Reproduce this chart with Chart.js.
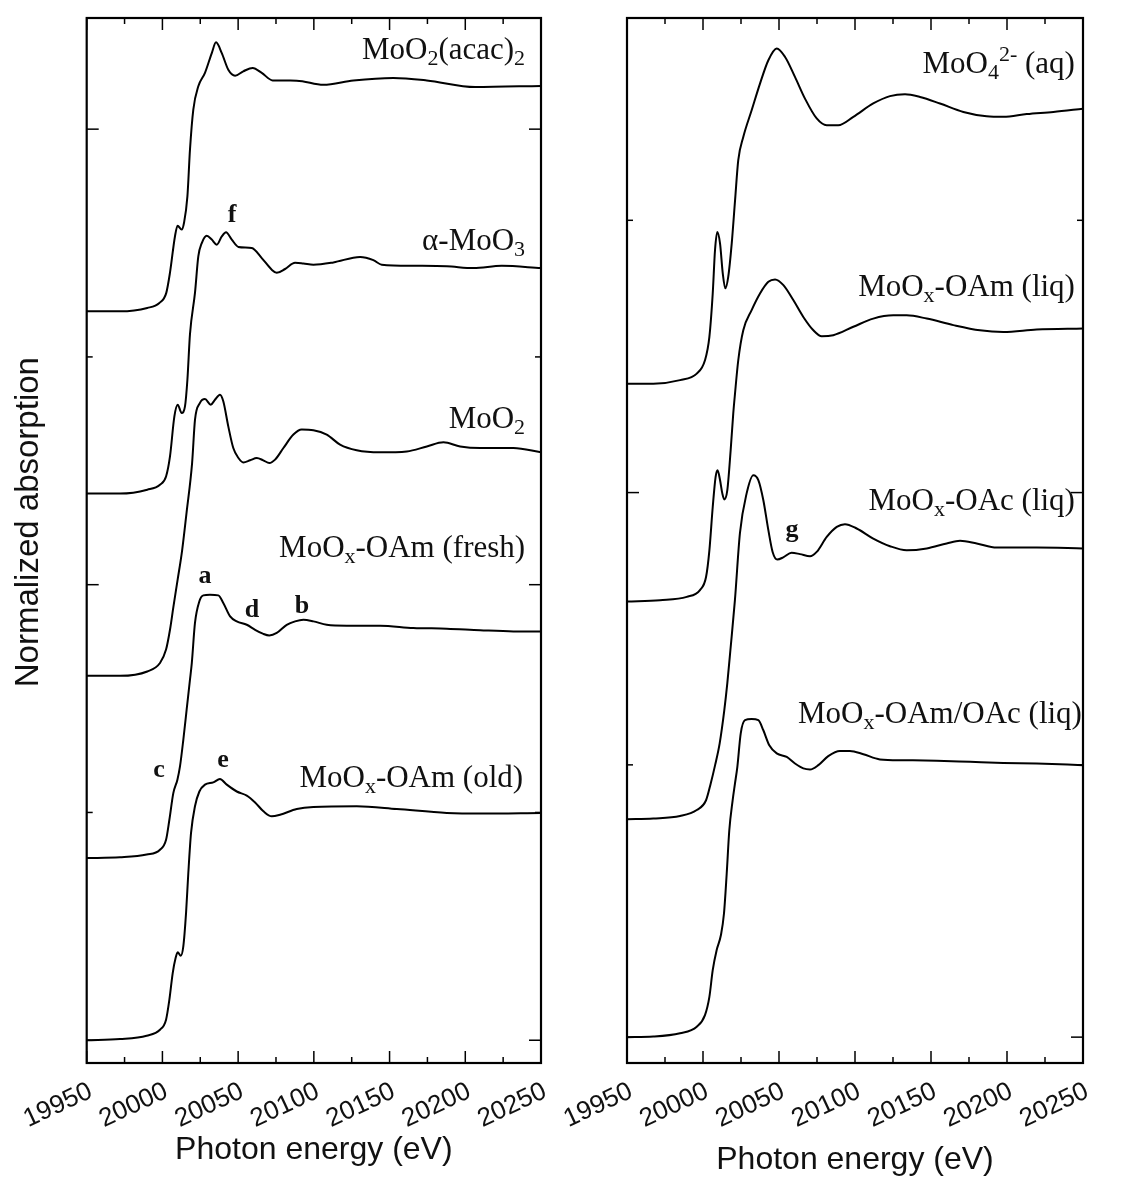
<!DOCTYPE html>
<html>
<head>
<meta charset="utf-8">
<script src="https://cdn.jsdelivr.net/npm/chart.js@4.4.0/dist/chart.umd.min.js"></script>
<style>
  html, body { margin: 0; padding: 0; background: #fff; }
  #wrap { position: relative; width: 1128px; height: 1180px; }
  #left { position: absolute; left: 0; top: 0; }
  #right { position: absolute; left: 540px; top: 0; }
</style>
</head>
<body>
<div id="wrap">
  <canvas id="left" width="600" height="1180"></canvas>
  <canvas id="right" width="588" height="1180"></canvas>
</div>
<script>
// energies (eV) and normalized absorption, left panel
const acacE = [19950, 19972, 19990, 19998, 20002.5, 20005, 20008.3, 20010, 20012.7, 20014.3, 20016.5, 20018.2, 20020.4, 20023.7, 20028.1, 20032.6, 20035.4, 20039.2, 20043.5, 20048, 20053.4, 20059.6, 20065.6, 20072.8, 20088.7, 20106.3, 20126.1, 20152.5, 20174.6, 20206.5, 20250];
const acacY = [0, 0, 0.015, 0.037, 0.08, 0.17, 0.33, 0.376, 0.359, 0.39, 0.505, 0.71, 0.886, 0.988, 1.047, 1.134, 1.181, 1.134, 1.061, 1.035, 1.054, 1.069, 1.047, 1.014, 1.013, 0.995, 1.014, 1.025, 1.014, 0.985, 0.99];

const moo3E = [19950, 19972, 19990, 19998.4, 20002.4, 20005, 20007.9, 20010.1, 20012.7, 20014.9, 20016.5, 20018.2, 20021.5, 20023.7, 20026, 20029.3, 20032.6, 20035.9, 20039.2, 20042, 20045.8, 20050.2, 20059, 20065.6, 20072.2, 20075.5, 20081, 20087.6, 20093.1, 20099.7, 20112.9, 20130.5, 20139.3, 20144.8, 20165.7, 20187.8, 20205.4, 20224.1, 20250];
const moo3Y = [0, 0, 0.017, 0.039, 0.075, 0.163, 0.339, 0.39, 0.354, 0.383, 0.5, 0.7, 0.881, 1.041, 1.1, 1.132, 1.115, 1.093, 1.129, 1.147, 1.115, 1.083, 1.078, 1.034, 0.983, 0.969, 0.986, 1.013, 1.01, 1.005, 1.015, 1.039, 1.025, 1.005, 1.0, 0.998, 0.99, 1.0, 0.99];

const moo2E = [19950, 19972, 19990, 19998.4, 20002.4, 20005, 20007.2, 20010, 20013, 20016, 20019.6, 20021.5, 20024.8, 20028.1, 20031.9, 20034.7, 20038, 20040.2, 20043.5, 20046.8, 20050.2, 20053.4, 20057.9, 20062.3, 20066.6, 20070.6, 20074.4, 20079.9, 20086.5, 20092, 20099.7, 20108.5, 20117.3, 20128.3, 20143.7, 20161.4, 20174.6, 20185.6, 20196.6, 20209.8, 20231.8, 20250];
const moo2Y = [0, 0, 0.019, 0.056, 0.115, 0.202, 0.3, 0.42, 0.55, 0.72, 0.934, 1.124, 1.198, 1.215, 1.19, 1.212, 1.234, 1.205, 1.095, 1.0, 0.956, 0.937, 0.946, 0.956, 0.946, 0.934, 0.949, 1.0, 1.059, 1.081, 1.078, 1.059, 1.015, 0.99, 0.981, 0.985, 1.007, 1.025, 1.007, 1.0, 1.0, 0.981];

const freshE = [19950, 19972, 19989.6, 19998.4, 20002.4, 20004.6, 20007.2, 20009.9, 20011.6, 20013.8, 20016, 20018.2, 20019.4, 20021.5, 20024.4, 20027, 20031.4, 20036.9, 20040.2, 20044.7, 20049.1, 20055.7, 20061.2, 20066.3, 20070.6, 20075.5, 20082.1, 20087.6, 20093.1, 20099.7, 20108.5, 20121.7, 20143.7, 20165.7, 20187.8, 20209.8, 20231.8, 20250];
const freshY = [0, 0.003, 0.015, 0.036, 0.08, 0.168, 0.285, 0.344, 0.402, 0.519, 0.651, 0.783, 0.856, 1.032, 1.127, 1.153, 1.156, 1.153, 1.12, 1.061, 1.039, 1.024, 1.002, 0.985, 0.977, 0.988, 1.024, 1.039, 1.046, 1.039, 1.024, 1.02, 1.02, 1.01, 1.007, 1.0, 0.995, 0.995];

const oldE = [19950, 19972, 19989.6, 19998.4, 20002.4, 20004.6, 20006.8, 20008.7, 20010.1, 20012.1, 20013.8, 20015.6, 20017.1, 20018.9, 20021.5, 20024.4, 20028.1, 20033.6, 20038, 20042.5, 20049.1, 20055.7, 20061.2, 20066.7, 20072.2, 20077.7, 20088.7, 20099.7, 20128.3, 20154.8, 20187.8, 20209.8, 20250];
const oldY = [0, 0.005, 0.02, 0.046, 0.09, 0.178, 0.295, 0.361, 0.386, 0.371, 0.412, 0.558, 0.734, 0.91, 1.027, 1.092, 1.122, 1.132, 1.147, 1.122, 1.092, 1.074, 1.044, 1.005, 0.983, 0.99, 1.015, 1.024, 1.027, 1.015, 0.998, 0.995, 0.998];

// right panel
const moo4E = [19950, 19967.3, 19984.9, 19995.9, 20001.3, 20004.2, 20006.4, 20007.9, 20009.4, 20011.2, 20013, 20014.7, 20016.6, 20018.9, 20021.1, 20023.2, 20026.5, 20032, 20037.5, 20043, 20048.5, 20054, 20060.5, 20067.1, 20074.8, 20081.4, 20089, 20098.9, 20112, 20123, 20132.9, 20142.8, 20155.9, 20171.3, 20186.6, 20197.6, 20213, 20230.5, 20250];
const moo4Y = [0, 0, 0.013, 0.037, 0.086, 0.172, 0.331, 0.49, 0.557, 0.515, 0.405, 0.35, 0.392, 0.515, 0.674, 0.821, 0.906, 1.004, 1.102, 1.188, 1.231, 1.2, 1.127, 1.047, 0.974, 0.949, 0.949, 0.98, 1.029, 1.056, 1.063, 1.053, 1.029, 0.998, 0.982, 0.98, 0.99, 0.998, 1.01];

const oamE = [19950, 19971.7, 19989.3, 19998, 20002, 20004.2, 20006.4, 20008.3, 20009.6, 20011.2, 20012.7, 20014, 20016, 20018.2, 20019.9, 20021, 20023.2, 20026.5, 20032, 20037.5, 20043, 20047.4, 20052.9, 20059.4, 20066, 20072.6, 20078.1, 20085.7, 20098.9, 20112, 20125.2, 20134, 20147.2, 20164.7, 20182.2, 20197.6, 20219.5, 20250];
const oamY = [0, 0.005, 0.017, 0.042, 0.09, 0.188, 0.347, 0.458, 0.482, 0.446, 0.397, 0.375, 0.409, 0.556, 0.69, 0.76, 0.886, 0.996, 1.07, 1.131, 1.174, 1.183, 1.162, 1.107, 1.045, 0.996, 0.974, 0.978, 1.009, 1.039, 1.051, 1.051, 1.039, 1.015, 0.996, 0.99, 0.999, 1.003];

const oacE = [19950, 19967.3, 19984.9, 19995.9, 20002, 20005, 20008, 20011, 20014, 20016, 20018, 20021, 20024.3, 20028.7, 20033.1, 20036.4, 20039.7, 20043, 20045.8, 20048.9, 20052.8, 20058.3, 20063.8, 20070.4, 20074.8, 20081.4, 20088, 20093.4, 20101.1, 20112, 20123, 20134, 20147.2, 20160.3, 20169.1, 20180.1, 20193.2, 20219.5, 20250];
const oacY = [0, 0.003, 0.012, 0.034, 0.07, 0.13, 0.2, 0.28, 0.4, 0.5, 0.62, 0.805, 1.051, 1.197, 1.264, 1.246, 1.172, 1.062, 0.982, 0.954, 0.962, 0.979, 0.974, 0.966, 0.982, 1.037, 1.074, 1.084, 1.068, 1.031, 1.003, 0.988, 0.995, 1.013, 1.023, 1.013, 0.998, 0.998, 0.995];

const mixE = [19950, 19967.3, 19984.9, 19995.9, 20001.3, 20004.2, 20006.4, 20009, 20011.8, 20013.8, 20015.6, 20017.3, 20019.5, 20021, 20022.6, 20024.8, 20027.6, 20032, 20036.4, 20039.7, 20043.6, 20048.5, 20055.1, 20060.5, 20066, 20070.4, 20075.9, 20082.4, 20090.1, 20096.7, 20105.5, 20116.4, 20131.8, 20153.8, 20175.7, 20197.6, 20219.5, 20250];
const mixY = [0, 0.002, 0.014, 0.038, 0.081, 0.148, 0.246, 0.32, 0.375, 0.454, 0.601, 0.76, 0.87, 0.93, 0.993, 1.115, 1.164, 1.168, 1.164, 1.127, 1.072, 1.042, 1.029, 1.005, 0.987, 0.983, 0.999, 1.032, 1.051, 1.051, 1.039, 1.02, 1.017, 1.015, 1.011, 1.007, 1.005, 0.999];

// vertical stacking offsets
const leftOffsets = [3.2, 2.4, 1.6, 0.8, 0];
const rightOffsets = [2.4, 1.6, 0.8, 0];

const leftNames = ['MoO_{2}(acac)_{2}', 'α-MoO_{3}', 'MoO_{2}', 'MoO_{x}-OAm (fresh)', 'MoO_{x}-OAm (old)'];
const rightNames = ['MoO_{4}^{2-} (aq)', 'MoO_{x}-OAm (liq)', 'MoO_{x}-OAc (liq)', 'MoO_{x}-OAm/OAc (liq)'];

const xTicks = [19950, 20000, 20050, 20100, 20150, 20200, 20250];

// where the labels sit (energy, absorption)
const leftNamePos = [[20239.5, 4.31], [20239.5, 3.47], [20239.5, 2.69], [20239.5, 2.123], [20238.2, 1.113]];
const rightNamePos = [[20244.7, 3.54], [20244.7, 2.721], [20244.7, 1.935], [20249.3, 1.153]];
const leftMarks = [['f', 20046, 3.594], ['a', 20028.1, 2.009], ['d', 20059.2, 1.86], ['b', 20092.2, 1.877], ['c', 19997.8, 1.157], ['e', 20040, 1.2]];
const rightMarks = [['g', 20058.6, 1.836]];

const SERIF = '"Liberation Serif", "DejaVu Serif", serif';
const SANS = '"Liberation Sans", Arial, sans-serif';

function parseRich(s) {
  const parts = [];
  const re = /([_^])\{([^}]*)\}|([^_^]+)/g;
  let m;
  while ((m = re.exec(s))) {
    if (m[3]) parts.push({ t: m[3], k: 'n' });
    else parts.push({ t: m[2], k: m[1] === '_' ? 'sub' : 'sup' });
  }
  return parts;
}

function drawRich(ctx, s, x, y, size) {
  const parts = parseRich(s);
  const fontFor = k => (k === 'n' ? size : Math.round(size * 0.7)) + 'px ' + SERIF;
  let w = 0;
  parts.forEach(p => { ctx.font = fontFor(p.k); p.w = ctx.measureText(p.t).width; w += p.w; });
  let cx = x - w;
  ctx.textAlign = 'left';
  ctx.textBaseline = 'alphabetic';
  parts.forEach(p => {
    ctx.font = fontFor(p.k);
    const dy = p.k === 'sub' ? size * 0.2 : p.k === 'sup' ? -size * 0.4 : 0;
    ctx.fillText(p.t, cx, y + dy);
    cx += p.w;
  });
}

// frame with inward ticks on all sides, plus the curve labels
const framePlugin = {
  id: 'frame',
  afterDatasetsDraw(chart, args, opts) {
    const { ctx, chartArea: a, scales: { x, y } } = chart;
    ctx.save();
    ctx.strokeStyle = '#000';
    ctx.lineWidth = 1.5;
    const seg = (x1, y1, x2, y2) => { ctx.beginPath(); ctx.moveTo(x1, y1); ctx.lineTo(x2, y2); ctx.stroke(); };
    for (let e = x.min; e <= x.max; e += 25) {
      const px = x.getPixelForValue(e);
      const len = e % 50 === 0 ? 12 : 6;
      seg(px, a.bottom, px, a.bottom - len);
      seg(px, a.top, px, a.top + len);
    }
    for (let v = Math.ceil(y.min); v <= y.max; v++) {
      const py = y.getPixelForValue(v);
      const len = v % 2 === 0 ? 12 : 6;
      seg(a.left, py, a.left + len, py);
      seg(a.right, py, a.right - len, py);
    }
    ctx.lineWidth = 2.2;
    ctx.strokeRect(a.left, a.top, a.right - a.left, a.bottom - a.top);

    ctx.fillStyle = '#111';
    opts.names.forEach((n, i) => {
      const [e, v] = opts.namePos[i];
      drawRich(ctx, n, x.getPixelForValue(e), y.getPixelForValue(v), 31);
    });
    ctx.font = 'bold 26px ' + SERIF;
    ctx.textAlign = 'center';
    ctx.textBaseline = 'alphabetic';
    opts.marks.forEach(([t, e, v]) => ctx.fillText(t, x.getPixelForValue(e), y.getPixelForValue(v)));
    ctx.restore();
  }
};

function curve(E, Y, off) {
  return {
    data: E.map((e, i) => ({ x: e, y: Y[i] + off })),
    borderColor: '#000',
    borderWidth: 2,
    pointRadius: 0,
    fill: false,
    cubicInterpolationMode: 'monotone'
  };
}

function makeChart(canvas, datasets, cfg) {
  return new Chart(canvas, {
    type: 'line',
    data: { datasets },
    options: {
      responsive: false,
      animation: false,
      devicePixelRatio: 1,
      layout: { padding: { top: 18, right: cfg.padRight, left: 0, bottom: 0 } },
      plugins: {
        legend: { display: false },
        tooltip: { enabled: false },
        frame: { names: cfg.names, namePos: cfg.namePos, marks: cfg.marks }
      },
      scales: {
        x: {
          type: 'linear',
          min: 19950,
          max: 20250,
          grid: { display: false, drawTicks: false },
          border: { display: false },
          afterBuildTicks: s => { s.ticks = xTicks.map(v => ({ value: v })); },
          ticks: {
            autoSkip: false,
            minRotation: 25,
            maxRotation: 25,
            padding: 13,
            labelOffset: 4,
            color: '#111',
            font: { family: SANS, size: 26 },
            callback: v => String(v)
          },
          title: {
            display: true,
            text: 'Photon energy (eV)',
            color: '#111',
            font: { family: SANS, size: 32 },
            padding: { top: 0, bottom: cfg.titlePad }
          },
          afterFit: s => { s.height = 117; }
        },
        y: {
          type: 'linear',
          min: cfg.yMin,
          max: cfg.yMax,
          grid: { display: false, drawTicks: false },
          border: { display: false },
          ticks: { display: false },
          title: {
            display: cfg.yTitle,
            text: '    Normalized absorption',
            color: '#111',
            font: { family: SANS, size: 33 },
            padding: { top: 9, bottom: 0 }
          },
          afterFit: s => { s.width = cfg.yWidth; }
        }
      }
    },
    plugins: [framePlugin]
  });
}

const leftSets = [
  curve(acacE, acacY, leftOffsets[0]),
  curve(moo3E, moo3Y, leftOffsets[1]),
  curve(moo2E, moo2Y, leftOffsets[2]),
  curve(freshE, freshY, leftOffsets[3]),
  curve(oldE, oldY, leftOffsets[4])
];
const rightSets = [
  curve(moo4E, moo4Y, rightOffsets[0]),
  curve(oamE, oamY, rightOffsets[1]),
  curve(oacE, oacY, rightOffsets[2]),
  curve(mixE, mixY, rightOffsets[3])
];

makeChart(document.getElementById('left'), leftSets, {
  padRight: 59, yMin: -0.1, yMax: 4.488, yWidth: 86.7, yTitle: true, titlePad: 11,
  names: leftNames, namePos: leftNamePos, marks: leftMarks
});
makeChart(document.getElementById('right'), rightSets, {
  padRight: 45, yMin: -0.095, yMax: 3.743, yWidth: 87, yTitle: false, titlePad: 1,
  names: rightNames, namePos: rightNamePos, marks: rightMarks
});
</script>
</body>
</html>
